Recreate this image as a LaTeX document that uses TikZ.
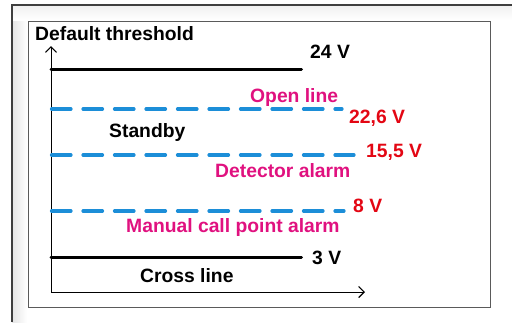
\documentclass[tikz,border=0pt]{standalone}
\usepackage{fontspec}
\setmainfont{Liberation Sans}
\usetikzlibrary{arrows.meta}
\definecolor{lvlc}{HTML}{1C8ED8}
\definecolor{msgc}{HTML}{E0117F}
\definecolor{voltc}{HTML}{E30613}
\definecolor{framec}{HTML}{5A5A5A}
\tikzset{
  txt/.style={anchor=base west, inner sep=0pt, font=\fontsize{19.3}{22}\selectfont\bfseries},
  solidlvl/.style={line width=3pt, line cap=round},
  dashlvl/.style={lvlc, line width=3.2pt, line cap=round, dash pattern=on 19.5pt off 12pt},
  barb/.tip={Straight Barb[length=5.5pt,width=11pt,line width=1.2pt]}
}
\begin{document}
\begin{tikzpicture}[x=1pt,y=-1pt]
  \useasboundingbox (0,0) rectangle (512,322);
  % window frame
  \shade[left color=black!10, right color=white] (12,5) rectangle (27,322);
  \shade[top color=black!6, bottom color=white] (12,5) rectangle (512,20);
  \draw[framec!70!black, line width=1.4pt] (12,322) -- (12,5) -- (512,5);
  \draw[framec, line width=1pt] (28,21) rectangle (490,307);
  % axes
  \coordinate (ytop) at (51,46);
  \coordinate (orig) at (51,292);
  \coordinate (xend) at (365,292);
  \draw[barb-barb, line width=0.9pt] (ytop) -- (orig) -- (xend);
  \node[txt] (dflt) at (35,40){Default threshold};
  % levels
  \draw[solidlvl] (51,69) -- (301.5,69);
  \node[txt] (v24) at (310,58){24 V};
  \node[txt, msgc] (open) at (250,102){Open line};
  \draw[dashlvl] (51.5,109) -- (342,109);
  \node[txt, voltc] (v226) at (349,123){22,6 V};
  \node[txt] (stby) at (109,137){Standby};
  \draw[dashlvl] (51.5,155) -- (354,155);
  \node[txt, voltc] (v155) at (366,157){15,5 V};
  \node[txt, msgc] (det) at (215,177){Detector alarm};
  \draw[dashlvl] (51.5,211) -- (344,211);
  \node[txt, voltc] (v8) at (353,212){8 V};
  \node[txt, msgc] (mcp) at (126,232){Manual call point alarm};
  \draw[solidlvl] (51,257) -- (301.5,257);
  \node[txt] (v3) at (312,264){3 V};
  \node[txt] (cross) at (140,282){Cross line};
\end{tikzpicture}
\end{document}
